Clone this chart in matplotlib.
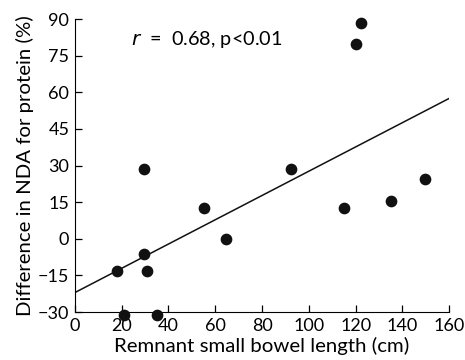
import matplotlib
matplotlib.use('Agg')
import matplotlib.pyplot as plt
import numpy as np

# remnant small bowel length (cm) vs difference in NDA for protein (%)
length = [18, 21, 29.5, 29.5, 31, 35, 55, 64.5, 92.5, 115, 120, 122.5, 135, 149.5]
diff = [-13, -31, -6, 28.5, -13, -31, 12.8, 0, 28.5, 12.8, 79.8, 88.5, 15.3, 24.5]

# regression line
intercept = -22
slope = 0.497
line_x = [0, 160]

plt.rcParams['font.family'] = ['Lato', 'DejaVu Sans']

fig = plt.figure(figsize=(4.65, 3.6), dpi=100)
ax = fig.add_axes([0.161, 0.133, 0.805, 0.814])

ax.scatter(length, diff, s=55, c='#111111', clip_on=False, zorder=3)
ax.plot(line_x, [intercept + slope * x for x in line_x], color='#111111', lw=1.1)

ax.set_xlim(0, 160)
ax.set_ylim(-30, 90)
ax.set_xticks(range(0, 161, 20))
ax.set_yticks(range(-30, 91, 15))
ax.spines['top'].set_visible(False)
ax.spines['right'].set_visible(False)
ax.tick_params(direction='in', length=5, labelsize=13, width=0.9, pad=4)
ax.set_xlabel('Remnant small bowel length (cm)', fontsize=14.7, labelpad=2)
ax.set_ylabel('Difference in NDA for protein (%)', fontsize=14.7, labelpad=3)

ax.text(0.15, 0.911, r'$r$  =  0.68, p<0.01', transform=ax.transAxes,
        fontsize=14.3, va='baseline')

fig.savefig('out.png', dpi=100)
